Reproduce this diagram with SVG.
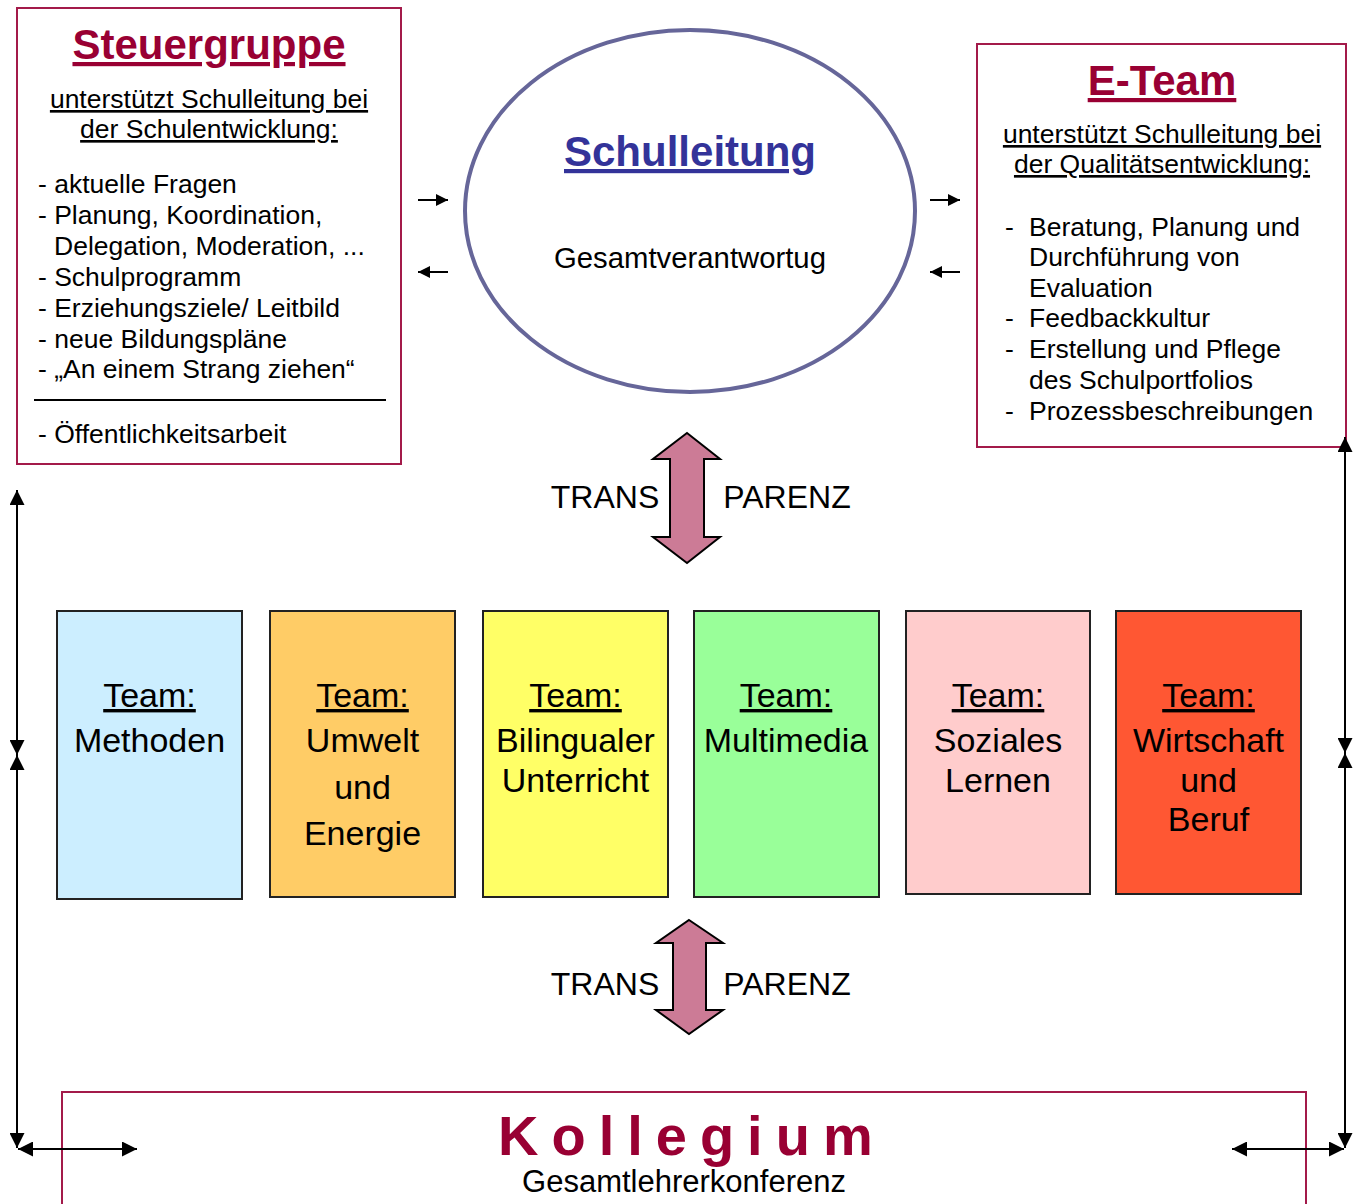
<svg xmlns="http://www.w3.org/2000/svg" width="1362" height="1204" viewBox="0 0 1362 1204">
<defs>
<style>
text{font-family:"Liberation Sans",Arial,sans-serif;fill:#000}
.frame{fill:#fff;stroke:#a31a4a;stroke-width:2}
.title{font-size:42px;font-weight:bold;fill:#990033;text-decoration:underline}
.sub{font-size:26.5px;text-decoration:underline}
.list{font-size:26.5px}
.team{stroke:#222;stroke-width:2}
.tt{font-size:34px;text-anchor:middle}
.u{text-decoration:underline}
.conn{stroke:#000;stroke-width:2;fill:none}
.big{fill:#cc7b96;stroke:#000;stroke-width:2}
.tp{font-size:32px}
</style>
<marker id="ah" viewBox="0 0 10 10" refX="10" refY="5" markerWidth="16" markerHeight="15" markerUnits="userSpaceOnUse" orient="auto-start-reverse">
<path d="M0,0 L10,5 L0,10 z" fill="#000"/>
</marker>
<marker id="sa" viewBox="0 0 10 10" refX="10" refY="5" markerWidth="12" markerHeight="14" markerUnits="userSpaceOnUse" orient="auto">
<path d="M0,0 L10,5 L0,10 z" fill="#000"/>
</marker>
</defs>
<rect width="1362" height="1204" fill="#fff"/>

<g id="steuergruppe">
<rect class="frame" x="17" y="8" width="384" height="456"/>
<text class="title" x="209" y="59" text-anchor="middle">Steuergruppe</text>
<text class="sub" x="209" y="108" text-anchor="middle">unterstützt Schulleitung bei</text>
<text class="sub" x="209" y="138" text-anchor="middle">der Schulentwicklung:</text>
<text class="list" x="38" y="193">- aktuelle Fragen</text>
<text class="list" x="38" y="224">- Planung, Koordination,</text>
<text class="list" x="54" y="255">Delegation, Moderation, ...</text>
<text class="list" x="38" y="286">- Schulprogramm</text>
<text class="list" x="38" y="317">- Erziehungsziele/ Leitbild</text>
<text class="list" x="38" y="348">- neue Bildungspläne</text>
<text class="list" x="38" y="378">- „An einem Strang ziehen“</text>
<line x1="34" y1="400" x2="386" y2="400" stroke="#000" stroke-width="2"/>
<text class="list" x="38" y="443">- Öffentlichkeitsarbeit</text>
</g>

<g id="schulleitung">
<ellipse cx="690" cy="211" rx="225" ry="181" fill="#fff" stroke="#666699" stroke-width="4"/>
<text x="690" y="166" text-anchor="middle" style="font-size:42px;font-weight:bold;fill:#333399;text-decoration:underline">Schulleitung</text>
<text x="690" y="268" text-anchor="middle" style="font-size:29.3px">Gesamtverantwortug</text>
</g>

<g id="eteam">
<rect class="frame" x="977" y="44" width="369" height="403"/>
<text class="title" x="1162" y="95" text-anchor="middle">E-Team</text>
<text class="sub" x="1162" y="143" text-anchor="middle">unterstützt Schulleitung bei</text>
<text class="sub" x="1162" y="173" text-anchor="middle">der Qualitätsentwicklung:</text>
<text class="list" x="1005" y="236">-</text>
<text class="list" x="1029" y="236">Beratung, Planung und</text>
<text class="list" x="1029" y="266">Durchführung von</text>
<text class="list" x="1029" y="297">Evaluation</text>
<text class="list" x="1005" y="327">-</text>
<text class="list" x="1029" y="327">Feedbackkultur</text>
<text class="list" x="1005" y="358">-</text>
<text class="list" x="1029" y="358">Erstellung und Pflege</text>
<text class="list" x="1029" y="389">des Schulportfolios</text>
<text class="list" x="1005" y="420">-</text>
<text class="list" x="1029" y="420">Prozessbeschreibungen</text>
</g>

<g id="team-methoden">
<rect class="team" x="57" y="611" width="185" height="288" fill="#cceeff"/>
<text class="tt" x="149.5" y="707"><tspan class="u">Team:</tspan></text>
<text class="tt" x="149.5" y="752">Methoden</text>
</g>
<g id="team-umwelt">
<rect class="team" x="270" y="611" width="185" height="286" fill="#ffcc66"/>
<text class="tt" x="362.5" y="707"><tspan class="u">Team:</tspan></text>
<text class="tt" x="362.5" y="752">Umwelt</text>
<text class="tt" x="362.5" y="799">und</text>
<text class="tt" x="362.5" y="845">Energie</text>
</g>
<g id="team-bilingual">
<rect class="team" x="483" y="611" width="185" height="286" fill="#ffff66"/>
<text class="tt" x="575.5" y="707"><tspan class="u">Team:</tspan></text>
<text class="tt" x="575.5" y="752">Bilingualer</text>
<text class="tt" x="575.5" y="792">Unterricht</text>
</g>
<g id="team-multimedia">
<rect class="team" x="694" y="611" width="185" height="286" fill="#99ff99"/>
<text class="tt" x="786" y="707"><tspan class="u">Team:</tspan></text>
<text class="tt" x="786" y="752">Multimedia</text>
</g>
<g id="team-soziales">
<rect class="team" x="906" y="611" width="184" height="283" fill="#ffcccc"/>
<text class="tt" x="998" y="707"><tspan class="u">Team:</tspan></text>
<text class="tt" x="998" y="752">Soziales</text>
<text class="tt" x="998" y="792">Lernen</text>
</g>
<g id="team-wirtschaft">
<rect class="team" x="1116" y="611" width="185" height="283" fill="#ff5733"/>
<text class="tt" x="1208.5" y="707"><tspan class="u">Team:</tspan></text>
<text class="tt" x="1208.5" y="752">Wirtschaft</text>
<text class="tt" x="1208.5" y="792">und</text>
<text class="tt" x="1208.5" y="831">Beruf</text>
</g>

<g id="kollegium">
<rect class="frame" x="62" y="1092" width="1244" height="130"/>
<text x="498" y="1155" style="font-size:56px;font-weight:bold;fill:#990033;letter-spacing:13px">Kollegium</text>
<text x="684" y="1192" text-anchor="middle" style="font-size:31px">Gesamtlehrerkonferenz</text>
</g>

<g id="connectors">
<line class="conn" x1="418" y1="200" x2="448" y2="200" marker-end="url(#sa)"/>
<line class="conn" x1="448" y1="272" x2="418" y2="272" marker-end="url(#sa)"/>
<line class="conn" x1="930" y1="200" x2="960" y2="200" marker-end="url(#sa)"/>
<line class="conn" x1="960" y1="272" x2="930" y2="272" marker-end="url(#sa)"/>

<polygon class="big" points="687,433 720,459 704,459 704,537 720,537 687,563 653,537 670,537 670,459 653,459"/>
<text class="tp" x="605" y="508" text-anchor="middle">TRANS</text>
<text class="tp" x="787" y="508" text-anchor="middle">PARENZ</text>

<polygon class="big" points="689,920 723,943 706,943 706,1010 723,1010 689,1034 656,1010 673,1010 673,943 656,943"/>
<text class="tp" x="605" y="995" text-anchor="middle">TRANS</text>
<text class="tp" x="787" y="995" text-anchor="middle">PARENZ</text>

<line class="conn" x1="17" y1="490" x2="17" y2="755" marker-start="url(#ah)" marker-end="url(#ah)"/>
<line class="conn" x1="17" y1="755" x2="17" y2="1148" marker-start="url(#ah)" marker-end="url(#ah)"/>
<line class="conn" x1="18" y1="1149" x2="137" y2="1149" marker-start="url(#ah)" marker-end="url(#ah)"/>
<line class="conn" x1="1345" y1="437" x2="1345" y2="753" marker-start="url(#ah)" marker-end="url(#ah)"/>
<line class="conn" x1="1345" y1="753" x2="1345" y2="1148" marker-start="url(#ah)" marker-end="url(#ah)"/>
<line class="conn" x1="1232" y1="1149" x2="1344" y2="1149" marker-start="url(#ah)" marker-end="url(#ah)"/>
</g>
</svg>
